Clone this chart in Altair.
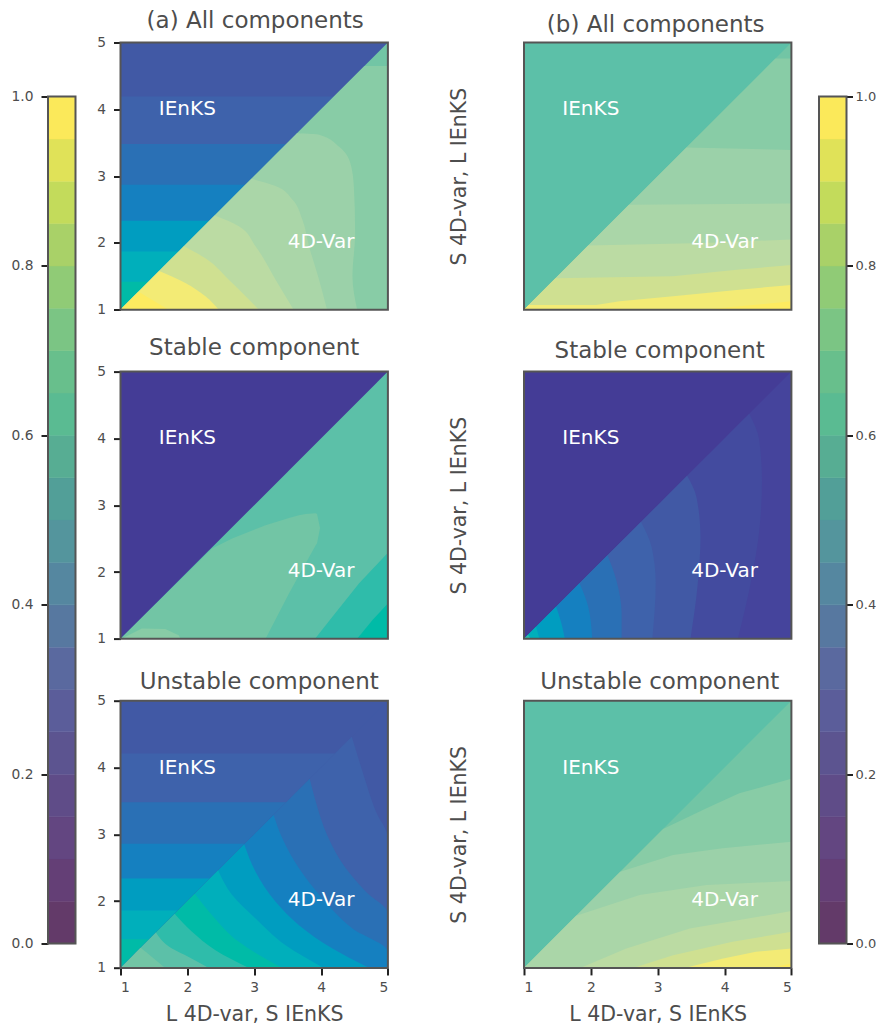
import altair as alt
import pandas as pd

FONT = "DejaVu Sans"
GREY = "#4d4d4d"
LEVELS = list(range(20))
# contour band colours, lowest band first
panel_colors = ["#443c96", "#45449c", "#434b9f", "#4159a5", "#3e62ab", "#2a70b5", "#1580c0",
                "#009dc0", "#00afbb", "#00bba7", "#2fbcaa", "#5cc0a8", "#72c5a5", "#88cca6",
                "#9bd1a9", "#aad6a8", "#bbdba3", "#cfe091", "#f3eb75", "#fdeb60"]
bar_colors = ["#633a69", "#643f76", "#634681", "#5f4c88", "#5c5490", "#5b5d9a", "#5a699f",
              "#5778a0", "#5587a0", "#54959d", "#529f98", "#57ad93", "#5abb92", "#68bf8c",
              "#7bc584", "#90cb76", "#a9d168", "#c3db5b", "#e0e258", "#fbe95a"]
bar_low = [round(i * 0.05, 2) for i in LEVELS]
bar_high = [round((i + 1) * 0.05, 2) for i in LEVELS]
tick_values = [1, 2, 3, 4, 5]
bar_ticks = [0.0, 0.2, 0.4, 0.6, 0.8, 1.0]

# --- (a) All components
a1_upper_edges = [5, 4.19, 3.48, 2.87, 2.33, 1.87, 1.42, 1]
a1_upper_levels = [3, 4, 5, 6, 7, 8, 9]
a1_base = [(1, 1), (5, 5)]
a1_under = [(13, [(1, 1), (4.65, 4.65), (5, 4.65)])]
a1_right = [
    (14, [(3.64, 3.64), (3.97, 3.62), (4.27, 3.44), (4.44, 3.19), (4.49, 2.85), (4.51, 2.15), (4.47, 1.5), (4.54, 1)]),
    (15, [(2.96, 2.96), (3.32, 2.85), (3.57, 2.65), (3.72, 2.35), (3.82, 1.95), (3.97, 1.45), (4.09, 1)]),
    (16, [(2.41, 2.41), (2.77, 2.25), (3.02, 1.95), (3.32, 1.45), (3.59, 1)]),
    (17, [(1.95, 1.95), (2.27, 1.77), (2.62, 1.45), (3.07, 1)]),
    (18, [(1.58, 1.58), (1.97, 1.4), (2.27, 1.2), (2.47, 1)]),
    (19, [(1.27, 1.27), (1.52, 1.12), (1.72, 1)]),
]
# --- (a) Stable
a2_under = [
    (13, [(1.05, 1.02), (1.32, 1.155), (1.67, 1.145), (1.87, 1.055), (1.9, 1)]),
    (10, [(3.91, 1), (4.17, 1.33), (4.57, 1.83), (5, 2.29)]),
    (9, [(4.54, 1), (4.77, 1.28), (5, 1.53)]),
]
a2_lobe_x = [1, 2.37, 2.67, 3.17, 3.52, 3.67, 3.77, 3.92, 3.94, 3.985]
a2_lobe_bottom = [1, 1, 1, 1, 1.68, 1.95, 2.13, 2.40, 2.43, 2.66]
a2_lobe_top = [1, 2.35, 2.50, 2.70, 2.81, 2.85, 2.87, 2.88, 2.87, 2.66]
# --- (a) Unstable
a3_upper_edges = [5, 4.21, 3.48, 2.86, 2.34, 1.86, 1.43, 1]
a3_upper_levels = [3, 4, 5, 6, 7, 8, 9]
a3_right = [
    (4, [(4.46, 4.46), (4.62, 3.94), (4.82, 3.34), (5, 2.94), (5, 1)]),
    (5, [(3.83, 3.83), (3.92, 3.49), (4.09, 2.99), (4.37, 2.49), (4.67, 2.14), (5, 1.815), (5, 1)]),
    (6, [(3.29, 3.29), (3.42, 2.94), (3.67, 2.49), (4.02, 2.04), (4.47, 1.59), (5, 1.24), (5, 1)]),
    (7, [(2.85, 2.85), (3.02, 2.44), (3.32, 1.99), (3.67, 1.64), (4.17, 1.29), (4.72, 1)]),
    (8, [(2.46, 2.46), (2.67, 2.09), (3.02, 1.74), (3.47, 1.34), (4.04, 1)]),
    (9, [(2.11, 2.11), (2.37, 1.79), (2.77, 1.39), (3.42, 1)]),
    (10, [(1.81, 1.81), (2.07, 1.54), (2.42, 1.265), (2.92, 1)]),
    (11, [(1.53, 1.53), (1.77, 1.29), (2.02, 1.165), (2.32, 1)]),
    (12, [(1.3, 1.3), (1.47, 1.165), (1.67, 1)]),
]
# --- (b) All components
b1_under = [
    (13, [(1, 1), (4.76, 4.76), (5, 4.76)]),
    (14, [(1, 1), (3.43, 3.43), (5, 3.39)]),
    (15, [(1, 1), (2.57, 2.57), (5, 2.59)]),
    (16, [(1, 1), (1.96, 1.96), (3.7, 2.0), (5, 2.05)]),
    (17, [(1, 1), (1.47, 1.47), (3.23, 1.5), (4.22, 1.6), (5, 1.67)]),
    (18, [(1, 1), (1.07, 1.07), (2.08, 1.07), (2.43, 1.125), (3.23, 1.2), (4.22, 1.3), (5, 1.37)]),
    (19, [(3.68, 1), (4.22, 1.05), (5, 1.125)]),
]
# --- (b) Stable
b2_right = [
    (2, [(4.37, 4.37), (4.52, 3.97), (4.56, 3.37), (4.52, 2.62), (4.42, 1.98), (4.2, 1)]),
    (3, [(3.44, 3.44), (3.58, 3.12), (3.64, 2.52), (3.6, 1.83), (3.49, 1)]),
    (4, [(2.75, 2.75), (2.91, 2.37), (2.97, 1.83), (2.92, 1)]),
    (5, [(2.25, 2.25), (2.38, 1.88), (2.46, 1.38), (2.46, 1)]),
    (6, [(1.83, 1.83), (1.96, 1.48), (2.02, 1)]),
    (7, [(1.48, 1.48), (1.56, 1.23), (1.61, 1)]),
    (8, [(1.18, 1.18), (1.23, 1)]),
    (10, [(1.06, 1.06), (1.1, 1)]),
]
# --- (b) Unstable
b3_under = [
    (13, [(1, 1), (3.08, 3.08), (3.73, 3.39), (4.22, 3.615), (5, 3.83)]),
    (14, [(1, 1), (2.44, 2.44), (3.23, 2.69), (3.97, 2.79), (5, 2.89)]),
    (15, [(1, 1), (1.78, 1.78), (2.73, 2.09), (3.73, 2.24), (5, 2.30)]),
    (16, [(1.84, 1), (2.53, 1.29), (3.48, 1.59), (5, 1.85)]),
    (17, [(2.63, 1), (3.23, 1.19), (4.12, 1.39), (5, 1.54)]),
    (18, [(3.4, 1), (3.98, 1.14), (4.47, 1.24), (5, 1.29)]),
    (19, [(4.67, 1), (5, 1.065)]),
]
label_x = [2.0, 4.0]
label_y = [4.0, 2.02]
label_text = ["IEnKS", "4D-Var"]
x_title = "L 4D-var, S IEnKS"
y_title = "S 4D-var, L IEnKS"


class Regions:
    def __init__(self):
        self.v, self.h, self.n = [], [], 0

    def vert(self, level, xs, lows, tops):
        self.n += 1
        for a, b, c in zip(xs, lows, tops):
            self.v.append(dict(x=a, y=b, y2=c, level=level, region=self.n))

    def bands(self, edges, levels):
        # each band runs down to the panel floor; the next one paints over it
        for i, lv in enumerate(levels):
            self.vert(lv, [1, 5], [1, 1], [edges[i]] * 2)

    def under(self, level, pts):
        self.vert(level, [p[0] for p in pts], [1] * len(pts), [p[1] for p in pts])

    def right(self, level, pts):
        self.n += 1
        for px, py in pts:
            self.h.append(dict(y=py, x=py, x2=px, level=level, region=self.n))


def panel(r, title, title_dx, title_dy, x_axis, y_axis):
    color = alt.Color("level:N", scale=alt.Scale(domain=LEVELS, range=panel_colors), legend=None)
    xs = alt.Scale(domain=[1, 5], nice=False, zero=False)
    ys = alt.Scale(domain=[1, 5], nice=False, zero=False)
    X = alt.X("x:Q", scale=xs, axis=x_axis)
    Y = alt.Y("y:Q", scale=ys, axis=y_axis)
    layers = [
        alt.Chart(pd.DataFrame(r.v)).mark_area(orient="vertical", interpolate="linear", opacity=1).encode(
            x=X, y=Y, y2="y2:Q", color=color, detail="region:N")
    ]
    if r.h:
        layers.append(
            alt.Chart(pd.DataFrame(r.h)).mark_area(orient="horizontal", interpolate="monotone", opacity=1).encode(
                y=Y, x=X, x2="x2:Q", color=color, detail="region:N"))
    lab = pd.DataFrame({"x": label_x, "y": label_y, "t": label_text})
    layers.append(alt.Chart(lab).mark_text(color="white", fontSize=20, font=FONT, align="center",
                                           baseline="middle").encode(x=X, y=Y, text="t:N"))
    box = pd.DataFrame({"x": [1], "x2": [5], "y": [1], "y2": [5]})
    layers.append(alt.Chart(box).mark_rect(fillOpacity=0, stroke="#555555", strokeWidth=2).encode(
        x=X, x2="x2:Q", y=Y, y2="y2:Q"))
    return alt.layer(*layers).resolve_scale(color="shared").properties(
        width=W, height=H,
        title=alt.TitleParams(title, font=FONT, fontSize=23, fontWeight="normal", color=GREY,
                              anchor="middle", dx=title_dx, dy=title_dy, offset=0))


W, H = 267.4, 267.2
tick_kw = dict(values=tick_values, format="d", tickColor="#222222", tickWidth=2, tickSize=7,
               labelColor=GREY, labelFontSize=13.8, labelFont=FONT, grid=False, domain=False)
left_y = alt.Axis(title=None, labelPadding=8, **tick_kw)
right_y = alt.Axis(title=y_title, values=tick_values, labels=False, ticks=False, domain=False, grid=False,
                   titleFont=FONT, titleFontSize=20.5, titleFontWeight="normal", titleColor=GREY, titlePadding=54.5)
bottom_x = alt.Axis(title=x_title, titleFont=FONT, titleFontSize=20.5, titleFontWeight="normal",
                    titleColor=GREY, titlePadding=10.5, labelPadding=5.5, **tick_kw)

r = Regions(); r.bands(a1_upper_edges, a1_upper_levels); r.under(12, a1_base)
for lv, p in a1_under: r.under(lv, p)
for lv, p in a1_right: r.right(lv, p)
p_a1 = panel(r, "(a) All components", 1, -3, None, left_y)

r = Regions(); r.bands([5, 1], [0]); r.under(11, a1_base)
r.vert(12, a2_lobe_x, a2_lobe_bottom, a2_lobe_top)
for lv, p in a2_under: r.under(lv, p)
p_a2 = panel(r, "Stable component", 0, -5, None, left_y)

r = Regions(); r.bands(a3_upper_edges, a3_upper_levels); r.under(3, a1_base)
for lv, p in a3_right: r.right(lv, p)
p_a3 = panel(r, "Unstable component", 5, 0, bottom_x, left_y)

r = Regions(); r.bands([5, 1], [11]); r.under(12, a1_base)
for lv, p in b1_under: r.under(lv, p)
p_b1 = panel(r, "(b) All components", -2, -5, None, right_y)

r = Regions(); r.bands([5, 1], [0]); r.under(1, a1_base)
for lv, p in b2_right: r.right(lv, p)
p_b2 = panel(r, "Stable component", 2, -8, None, right_y)

r = Regions(); r.bands([5, 1], [11]); r.under(12, a1_base)
for lv, p in b3_under: r.under(lv, p)
p_b3 = panel(r, "Unstable component", 2, -6, bottom_x, right_y)

SP = 61.1
TOTAL = 3 * H + 2 * SP


def colorbar(orient, size, tick, pad):
    ys = alt.Scale(domain=[-0.0268, 1.0638], nice=False, zero=False)
    df = pd.DataFrame({"low": bar_low, "high": bar_high, "level": LEVELS, "a": [0] * 20, "b": [1] * 20})
    xs = alt.Scale(domain=[0, 1], nice=False, zero=False)
    axis = alt.Axis(title=None, values=bar_ticks, format=".1f", orient=orient, tickColor="#222222", tickWidth=2,
                    tickSize=tick, labelColor=GREY, labelFontSize=size, labelFont=FONT, labelPadding=pad,
                    grid=False, domain=False)
    X = alt.X("a:Q", scale=xs, axis=None)
    Y = alt.Y("low:Q", scale=ys, axis=axis)
    scale = alt.Scale(domain=LEVELS, range=bar_colors)
    bands = alt.Chart(df).mark_rect(opacity=1, strokeWidth=0.5).encode(
        x=X, x2="b:Q", y=Y, y2="high:Q",
        color=alt.Color("level:N", scale=scale, legend=None),
        stroke=alt.Stroke("level:N", scale=scale, legend=None))
    box = pd.DataFrame({"a": [0], "b": [1], "low": [0], "high": [1]})
    frame = alt.Chart(box).mark_rect(fillOpacity=0, stroke="#555555", strokeWidth=2).encode(
        x=X, x2="b:Q", y=Y, y2="high:Q")
    return alt.layer(bands, frame).properties(width=27.5, height=TOTAL)


col_a = alt.vconcat(p_a1, p_a2, p_a3, spacing=SP, bounds="flush")
col_b = alt.vconcat(p_b1, p_b2, p_b3, spacing=SP, bounds="flush")
left_part = alt.hconcat(colorbar("left", 13.8, 7, 8), col_a, spacing=19.5).resolve_scale(color="independent", stroke="independent")
right_part = alt.hconcat(col_b, colorbar("right", 13, 6, 2.5), spacing=25).resolve_scale(color="independent", stroke="independent")

chart = alt.hconcat(left_part, right_part, spacing=60).resolve_scale(
    color="independent", stroke="independent").configure_view(stroke=None).properties(
    padding={"left": 3, "top": 1.5, "right": 0, "bottom": 2})

chart.save("out.html", embed_options={"renderer": "svg", "actions": False})
